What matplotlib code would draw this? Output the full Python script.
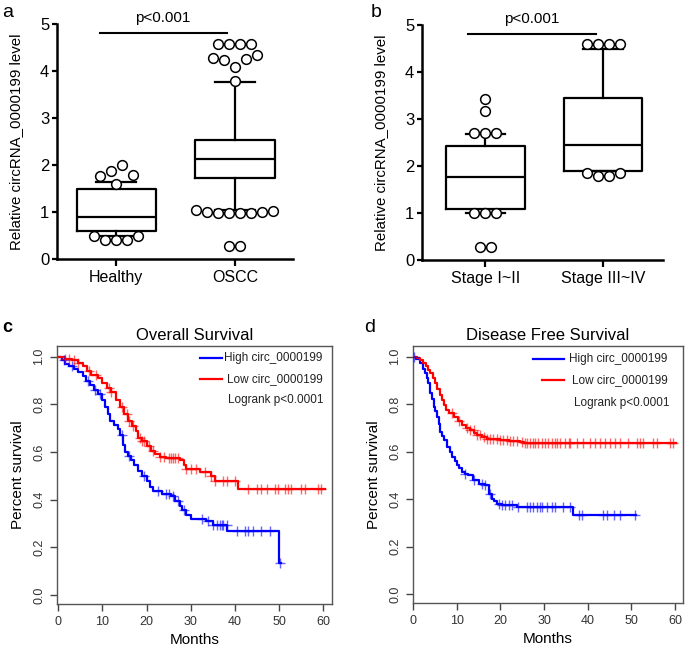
import matplotlib.pyplot as plt
import numpy as np

plt.rcParams['font.family'] = ['Liberation Sans', 'DejaVu Sans']

# ---- panel a: circRNA level, healthy vs OSCC ----
a_labels = ['Healthy', 'OSCC']
a_q1 = [0.59, 1.73]
a_med = [0.90, 2.12]
a_q3 = [1.48, 2.53]
a_lo = [0.48, 1.05]
a_hi = [1.63, 3.77]
# outliers, one list per row of circles (left to right)
a_out = [
    [[0.48, 0.40, 0.40, 0.40, 0.48], [1.60], [1.76, 1.87, 1.99, 1.78]],
    [[4.57, 4.57, 4.57, 4.57], [4.27, 4.23, 4.09, 4.26, 4.34], [3.79],
     [1.04, 1.01, 0.98, 0.98, 0.98, 0.98, 1.01, 1.03], [0.27, 0.27]],
]

# ---- panel b: stage I~II vs III~IV ----
b_labels = ['Stage I~II', 'Stage III~IV']
b_q1 = [1.09, 1.90]
b_med = [1.77, 2.45]
b_q3 = [2.43, 3.45]
b_lo = [0.99, 1.90]
b_hi = [2.69, 4.48]
b_out = [
    [[3.42], [3.16], [2.71, 2.71, 2.71], [0.99, 0.99, 0.99], [0.27, 0.27]],
    [[4.59, 4.59, 4.59, 4.59], [1.85, 1.79, 1.79, 1.86]],
]

# ---- panel c: overall survival ----
c_hi_t = [0, 0.8, 1.5, 2.5, 3.5, 4.5, 5.5, 6.3, 7.2, 8.0, 9.0, 9.8, 10.5, 11.2, 11.8,
          12.5, 13.5, 14.0, 14.6, 15.2, 15.8, 16.5, 17.2, 18.0, 19.0, 20.0, 20.8, 21.5,
          23.5, 25.5, 26.5, 27.5, 28.0, 29.0, 30.0, 33.5, 35.0, 38.2, 50.1, 50.5]
c_hi_s = [1.0, 0.985, 0.97, 0.96, 0.95, 0.935, 0.92, 0.90, 0.88, 0.86, 0.845, 0.82, 0.79,
          0.76, 0.73, 0.715, 0.695, 0.67, 0.63, 0.60, 0.585, 0.565, 0.545, 0.52, 0.50, 0.48,
          0.455, 0.435, 0.425, 0.415, 0.395, 0.375, 0.355, 0.335, 0.32, 0.31, 0.295, 0.268,
          0.133, 0.133]
c_hi_cens = [1.2, 3.0, 6.8, 8.3, 9.5, 14.5, 16.0, 19.5, 22.5, 24.5, 25.0, 26.0, 27.0, 28.5,
             32.5, 33.8, 35.1, 35.9, 36.6, 37.0, 37.4, 38.1, 40.4, 42.3, 43.0, 44.1, 46.0,
             47.9, 50.3]
c_lo_t = [0, 1.5, 3.0, 4.5, 5.5, 6.5, 7.5, 9.0, 10.0, 11.0, 12.0, 13.0, 14.0, 14.8, 15.8,
          16.8, 17.5, 18.0, 19.0, 20.0, 21.0, 22.0, 23.0, 24.5, 27.5, 28.5, 29.0, 32.0, 34.5,
          35.5, 40.8, 60.4]
c_lo_s = [1.0, 0.99, 0.985, 0.975, 0.96, 0.94, 0.925, 0.91, 0.89, 0.87, 0.85, 0.82, 0.79,
          0.76, 0.73, 0.71, 0.69, 0.66, 0.645, 0.625, 0.605, 0.59, 0.58, 0.575, 0.565, 0.545,
          0.53, 0.515, 0.50, 0.48, 0.445, 0.445]
c_lo_cens = [1.5, 2.5, 3.5, 4.5, 7.0, 8.5, 11.5, 12.0, 14.5, 15.5, 16.0, 17.0, 18.5, 19.0,
             19.5, 20.5, 21.5, 23.0, 24.0, 25.0, 25.5, 26.0, 26.5, 27.0, 29.0, 30.0, 31.3,
             33.2, 34.7, 35.5, 37.4, 38.1, 40.0, 43.0, 44.9, 46.0, 47.2, 49.0, 49.8, 51.3,
             52.0, 52.8, 55.0, 55.8, 58.8, 59.6]

# ---- panel d: disease free survival ----
d_hi_t = [0, 0.8, 1.7, 2.3, 2.8, 3.2, 3.5, 3.9, 4.3, 4.7, 5.1, 5.5, 5.9, 6.2, 6.6, 7.0,
          7.8, 8.4, 8.9, 9.5, 10.0, 10.6, 11.2, 12.0, 12.7, 13.8, 15.0, 16.5, 17.3, 18.0,
          18.6, 19.2, 20.3, 23.7, 36.7, 51.0]
d_hi_s = [1.0, 0.99, 0.972, 0.95, 0.93, 0.91, 0.888, 0.846, 0.82, 0.79, 0.77, 0.747, 0.715,
          0.684, 0.665, 0.649, 0.621, 0.60, 0.578, 0.56, 0.543, 0.53, 0.515, 0.505, 0.50,
          0.479, 0.465, 0.458, 0.423, 0.402, 0.39, 0.381, 0.374, 0.368, 0.333, 0.333]
d_hi_cens = [0.3, 12.0, 13.9, 15.8, 16.5, 17.7, 19.6, 20.4, 21.1, 21.9, 22.6, 24.0, 26.0,
             26.8, 27.5, 28.3, 29.0, 29.5, 30.6, 31.8, 32.5, 34.4, 35.9, 37.9, 38.6, 43.6,
             44.4, 45.9, 47.4, 50.8]
d_lo_t = [0, 1.0, 1.7, 2.4, 3.0, 3.5, 3.9, 4.5, 5.1, 5.6, 6.1, 6.6, 7.0, 7.5, 8.3, 9.3,
          10.2, 11.2, 12.2, 13.1, 14.0, 14.6, 15.8, 16.9, 18.5, 20.0, 22.0, 24.5, 25.3, 60.3]
d_lo_s = [1.0, 0.993, 0.985, 0.972, 0.96, 0.945, 0.93, 0.91, 0.888, 0.865, 0.84, 0.817,
          0.795, 0.775, 0.762, 0.747, 0.73, 0.711, 0.70, 0.69, 0.68, 0.669, 0.662, 0.655,
          0.651, 0.648, 0.644, 0.641, 0.636, 0.636]
d_lo_cens = [8.9, 10.5, 12.4, 13.1, 13.9, 14.6, 15.4, 16.2, 16.9, 17.7, 18.4, 19.2, 20.0,
             20.7, 21.5, 22.3, 23.0, 23.8, 25.0, 25.6, 26.2, 26.8, 27.4, 28.0, 28.6, 29.5,
             30.3, 31.0, 31.8, 32.5, 32.9, 33.7, 34.8, 35.6, 36.0, 37.5, 39.0, 40.5, 41.7,
             42.8, 44.0, 45.1, 46.3, 47.4, 49.3, 51.2, 52.0, 52.7, 55.0, 55.8, 58.9, 59.6]

W, H = 685, 646
fig = plt.figure(figsize=(W / 100, H / 100), dpi=100)


def px_axes(l, t, r, b):
    return fig.add_axes([l / W, 1 - b / H, (r - l) / W, (b - t) / H])


def box_panel(ax, labels, q1, med, q3, lo, hi, outs, xlim, bar):
    stats = [dict(q1=q1[i], med=med[i], q3=q3[i], whislo=lo[i], whishi=hi[i], fliers=[])
             for i in range(len(labels))]
    lp = dict(color='black', linewidth=1.6)
    ax.bxp(stats, positions=[1, 2], widths=0.67, showfliers=False,
           boxprops=lp, medianprops=lp, whiskerprops=lp, capprops=lp)
    ax.set_xlim(*xlim)
    ax.set_ylim(0, 5)
    step = 11 * (xlim[1] - xlim[0]) / ax.bbox.width
    for i, rows in enumerate(outs):
        for row in rows:
            n = len(row)
            xs = 1 + i + (np.arange(n) - (n - 1) / 2) * step
            ax.plot(xs, row, 'o', ms=7, mfc='white', mec='black', mew=1.1,
                    zorder=3, clip_on=False)
    ax.set_xticks([1, 2], labels, fontsize=11.5)
    ax.set_yticks(range(6))
    ax.tick_params(axis='y', labelsize=12, length=3.6, width=1.6, pad=2)
    ax.tick_params(axis='x', length=5, width=1.6, pad=3)
    for s in ['top', 'right']:
        ax.spines[s].set_visible(False)
    for s in ['left', 'bottom']:
        ax.spines[s].set_linewidth(1.8)
    ax.set_ylabel('Relative circRNA_0000199 level', fontsize=10.8, labelpad=12)
    ax.plot(bar, [4.81, 4.81], color='black', lw=1.5, clip_on=False)
    ax.text(sum(bar) / 2, 5.12, 'p<0.001', ha='center', va='center', fontsize=11)


def km_panel(ax, curves, xlim, title, leg_x, leg_txt_x, leg_y):
    for t, s, cens, col in curves:
        t = np.array(t)
        s = np.array(s)
        ax.step(t, s, where='post', color=col, lw=1.6, zorder=2)
        idx = np.searchsorted(t, cens, side='right') - 1
        ax.plot(cens, s[idx], '+', color=col, ms=6.5, mew=1.0, alpha=0.6, zorder=3)
    ax.set_xlim(*xlim)
    ax.set_ylim(-0.038, 1.045)
    ax.set_xticks(range(0, 61, 10))
    ax.set_yticks(np.arange(0, 1.01, 0.2))
    ax.set_yticklabels(['%.1f' % v for v in np.arange(0, 1.01, 0.2)],
                       rotation=90, va='center')
    ax.tick_params(labelsize=9, colors='#444444', labelcolor='#333333',
                   length=5, width=1.0)
    for s in ax.spines.values():
        s.set_color('#555555')
        s.set_linewidth(1.0)
    ax.set_title(title, fontsize=12, pad=4)
    ax.set_xlabel('Months', fontsize=11, labelpad=4)
    ax.set_ylabel('Percent survival', fontsize=11, labelpad=6)
    names = ['High circ_0000199', 'Low circ_0000199']
    for k, (t, s, cens, col) in enumerate(curves):
        ax.plot(leg_x[k], [leg_y[k], leg_y[k]], color=col, lw=1.6,
                transform=ax.transAxes)
        ax.text(leg_txt_x[k], leg_y[k], names[k], transform=ax.transAxes,
                va='center', ha='left', fontsize=8.5, color='#222222')
    ax.text(leg_txt_x[2], leg_y[2], 'Logrank p<0.0001', transform=ax.transAxes,
            va='center', ha='left', fontsize=8.5, color='#222222')


ax_a = px_axes(57, 24, 293, 259)
box_panel(ax_a, a_labels, a_q1, a_med, a_q3, a_lo, a_hi, a_out, (0.5, 2.49), [0.86, 1.93])

ax_b = px_axes(422, 25, 663, 260)
box_panel(ax_b, b_labels, b_q1, b_med, b_q3, b_lo, b_hi, b_out, (0.46, 2.51), [0.85, 1.94])

ax_c = px_axes(57, 346, 332, 604)
km_panel(ax_c, [(c_hi_t, c_hi_s, c_hi_cens, '#0000ff'), (c_lo_t, c_lo_s, c_lo_cens, '#ff0000')],
         (-0.3, 62.0), 'Overall Survival',
         [[0.52, 0.60], [0.52, 0.60]], [0.607, 0.618, 0.622], [0.953, 0.872, 0.79])

ax_d = px_axes(413, 346, 683, 603)
km_panel(ax_d, [(d_hi_t, d_hi_s, d_hi_cens, '#0000ff'), (d_lo_t, d_lo_s, d_lo_cens, '#ff0000')],
         (0, 61.8), 'Disease Free Survival',
         [[0.443, 0.559], [0.477, 0.559]], [0.579, 0.590, 0.597], [0.949, 0.868, 0.778])

fig.text(2 / W, 1 - 17 / H, 'a', fontsize=14)
fig.text(371 / W, 1 - 17 / H, 'b', fontsize=14)
fig.text(2 / W, 1 - 332 / H, 'c', fontsize=13, fontweight='bold')
fig.text(364 / W, 1 - 332 / H, 'd', fontsize=14)

fig.savefig('out.png', dpi=100)
